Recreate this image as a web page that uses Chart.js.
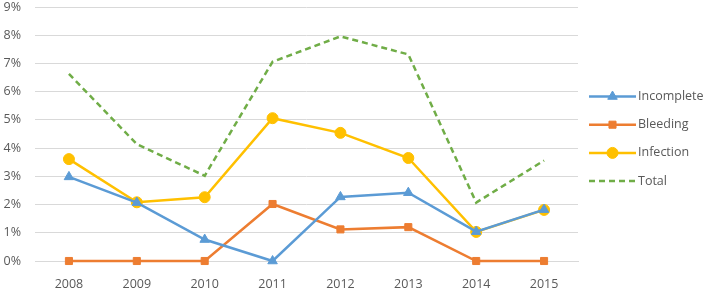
<!DOCTYPE html>
<html>
<head>
<meta charset="utf-8">
<script src="https://cdn.jsdelivr.net/npm/chart.js@4.4.0/dist/chart.umd.min.js"></script>
<style>
  html, body { margin: 0; padding: 0; background: #fff; }
  #wrap { width: 709px; height: 288px; position: relative; }
</style>
</head>
<body>
<div id="wrap"><canvas id="grafico"></canvas></div>
<script>
const years = ['2008', '2009', '2010', '2011', '2012', '2013', '2014', '2015'];
const incomplete = [2.98, 2.07, 0.76, 0, 2.27, 2.42, 1.04, 1.82];
const bleeding = [0, 0, 0, 2.02, 1.12, 1.2, 0, 0];
const infection = [3.61, 2.08, 2.26, 5.06, 4.54, 3.65, 1.03, 1.81];
const total = [6.63, 4.14, 3.02, 7.06, 7.96, 7.32, 2.07, 3.56];
const yTicks = [0, 1, 2, 3, 4, 5, 6, 7, 8, 9];

const textColor = '#595959';
const fuente = '"Open Sans", sans-serif';

// leyenda a la derecha: línea con marcador al centro
const leyendaDerecha = {
    id: 'leyendaDerecha',
    afterDraw(chart) {
        const ctx = chart.ctx;
        const x0 = 589, largo = 47;
        chart.data.datasets.forEach((ds, i) => {
            const y = 96.5 + i * 28.2;
            ctx.save();
            ctx.strokeStyle = ds.borderColor;
            ctx.fillStyle = ds.borderColor;
            ctx.lineWidth = ds.borderWidth;
            ctx.setLineDash(ds.borderDash || []);
            ctx.beginPath();
            ctx.moveTo(x0, y);
            ctx.lineTo(x0 + largo, y);
            ctx.stroke();
            ctx.setLineDash([]);
            if (ds.pointRadius > 0) {
                ctx.lineWidth = 1;
                Chart.helpers.drawPoint(ctx, {
                    pointStyle: ds.pointStyle,
                    radius: ds.pointRadius,
                    borderWidth: 1,
                    rotation: 0
                }, x0 + largo / 2, y);
            }
            ctx.restore();
            ctx.save();
            ctx.fillStyle = textColor;
            ctx.font = '12.5px ' + fuente;
            ctx.textBaseline = 'middle';
            ctx.fillText(ds.label, x0 + largo + 2, y);
            ctx.restore();
        });
    }
};

function serie(label, data, color, style, dash) {
    return {
        label: label,
        data: data,
        borderColor: color,
        backgroundColor: color,
        pointBackgroundColor: color,
        pointBorderColor: color,
        borderWidth: 2.5,
        borderDash: dash,
        pointStyle: style,
        pointRadius: style ? (style === 'rect' ? 5 : 5.5) : 0,
        pointBorderWidth: 1,
        tension: 0,
        fill: false,
        clip: false
    };
}

new Chart(document.getElementById('grafico').getContext('2d'), {
    type: 'line',
    data: {
        labels: years,
        datasets: [
            serie('Incomplete', incomplete, '#5B9BD5', 'triangle'),
            serie('Bleeding', bleeding, '#ED7D31', 'rect'),
            serie('Infection', infection, '#FFC000', 'circle'),
            serie('Total', total, '#70AD47', false, [6, 4])
        ]
    },
    options: {
        responsive: true,
        maintainAspectRatio: false,
        animation: false,
        layout: { padding: { top: 7, right: 131, left: 0, bottom: 0 } },
        plugins: {
            legend: { display: false },
            tooltip: { enabled: false }
        },
        scales: {
            x: {
                offset: true,
                grid: { display: false, drawTicks: false },
                border: { display: true, color: '#d9d9d9' },
                ticks: {
                    color: textColor,
                    font: { family: fuente, size: 12.5 },
                    padding: 16,
                    maxRotation: 0
                },
                afterFit(scale) {
                    scale.height = 27;
                    scale.paddingLeft = 0;
                    scale.paddingRight = 0;
                }
            },
            y: {
                min: 0,
                max: 9,
                afterBuildTicks(scale) {
                    scale.ticks = yTicks.map(v => ({ value: v }));
                },
                grid: { color: '#d9d9d9', drawTicks: false, lineWidth: 1 },
                border: { display: false },
                ticks: {
                    color: textColor,
                    font: { family: fuente, size: 12.5 },
                    padding: 14,
                    callback: v => v + '%'
                },
                afterFit(scale) {
                    scale.width = 35;
                    scale.paddingTop = 0;
                    scale.paddingBottom = 0;
                }
            }
        }
    },
    plugins: [leyendaDerecha]
});
</script>
</body>
</html>
